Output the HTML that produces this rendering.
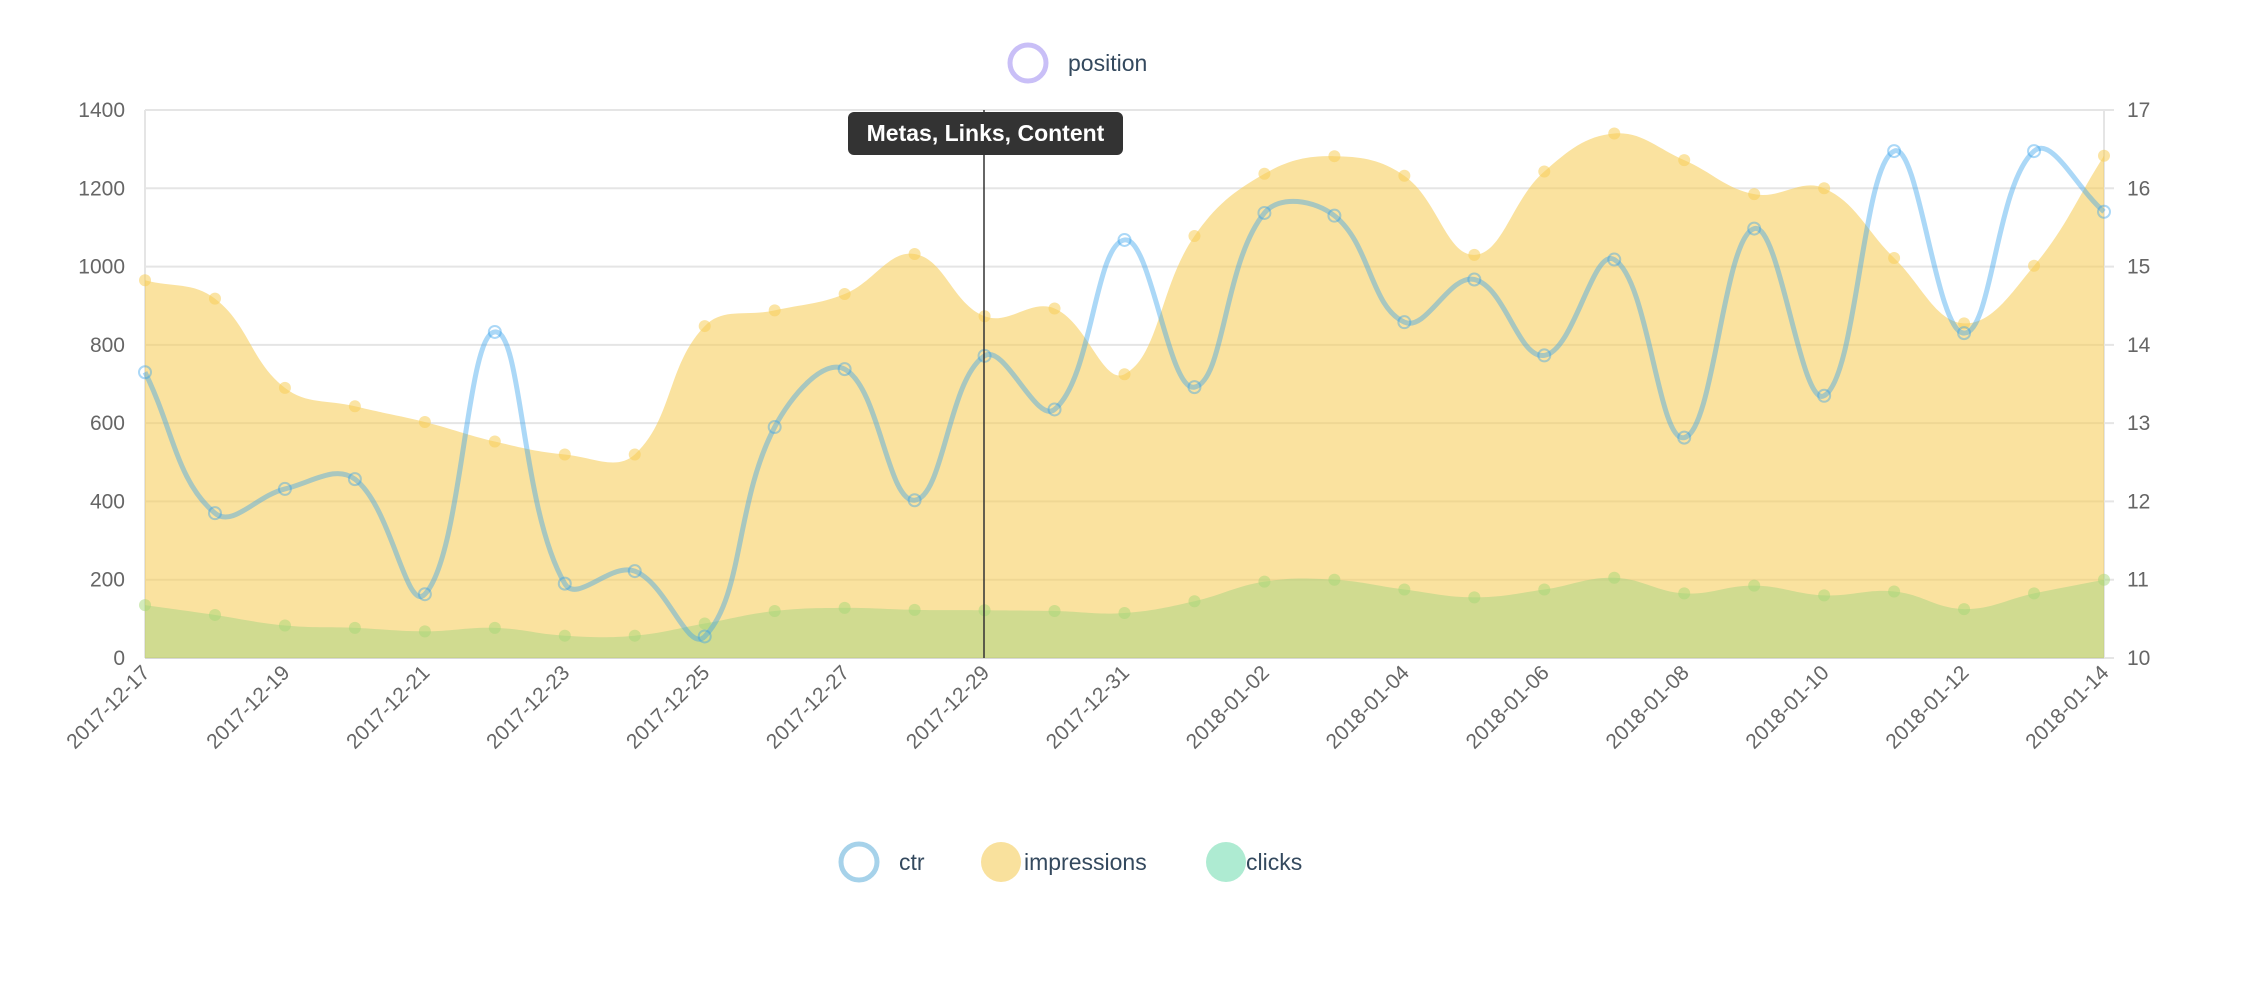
<!DOCTYPE html>
<html><head><meta charset="utf-8"><style>
html,body{margin:0;padding:0;background:#fff;}
svg{display:block;font-family:"Liberation Sans",sans-serif;}
</style></head><body>
<svg id="c" width="2248" height="988" xmlns="http://www.w3.org/2000/svg">
<rect width="2248" height="988" fill="#fff"/>
<g id="grid"></g>
<path id="imp" fill="rgba(247,205,90,0.58)" stroke="none"/>
<path id="clk" fill="rgba(165,212,130,0.5)" stroke="none"/>
<g id="imppts"></g>
<g id="clkpts"></g>
<path id="ctr" fill="none" stroke="rgba(54,162,235,0.42)" stroke-width="5"/>
<g id="ctrpts"></g>
<line x1="984" y1="110" x2="984" y2="658" stroke="#333" stroke-width="1.5"/>
<rect x="848" y="112" width="275" height="43" rx="6" fill="#333"/>
<text x="985.5" y="141" fill="#fff" font-size="23" font-weight="bold" text-anchor="middle">Metas, Links, Content</text>
<g id="axes" font-size="21" fill="#666"></g>
<circle cx="1028" cy="63" r="18" fill="none" stroke="#c9bff7" stroke-width="5"/>
<text x="1068" y="71" font-size="23" fill="#34495e">position</text>
<circle cx="859" cy="862" r="18" fill="none" stroke="#a6d2ea" stroke-width="5"/>
<text x="899" y="870" font-size="23" fill="#34495e">ctr</text>
<circle cx="1001" cy="862" r="20" fill="#f9e19d"/>
<text x="1024" y="870" font-size="23" fill="#34495e">impressions</text>
<circle cx="1226" cy="862" r="20" fill="#aeebd2"/>
<text x="1246" y="870" font-size="23" fill="#34495e">clicks</text>
</svg>
<script>
var L=145,R=2104,T=110,B=658,N=29,dx=(R-L)/28;
function X(i){return L+i*dx}
function Y(v){return B-(v/1400)*(B-T)}
var imp=[965,918,690,643,603,553,520,520,848,888,930,1032,873,893,725,1078,1237,1282,1232,1030,1243,1340,1272,1185,1200,1022,855,1002,1283];
var clk=[135,110,83,77,68,77,57,57,88,120,128,123,122,120,115,145,195,200,175,155,175,205,165,185,160,170,125,165,200];
var ctr=[730,370,432,457,163,833,190,222,55,590,738,403,772,635,1068,692,1137,1130,858,967,773,1018,563,1097,670,1295,830,1295,1140];
function path(d){var p=d.map(function(v,i){return [X(i),Y(v)]});var t=0.4,s="M"+p[0][0]+","+p[0][1];
var cps=[];for(var i=0;i<p.length;i++){var a=p[Math.max(0,i-1)],b=p[i],c=p[Math.min(p.length-1,i+1)];
var d01=Math.hypot(b[0]-a[0],b[1]-a[1]),d12=Math.hypot(c[0]-b[0],c[1]-b[1]);var fa=d01/(d01+d12)||0,fb=d12/(d01+d12)||0;fa*=t;fb*=t;
cps.push({px:b[0]-fa*(c[0]-a[0]),py:b[1]-fa*(c[1]-a[1]),nx:b[0]+fb*(c[0]-a[0]),ny:b[1]+fb*(c[1]-a[1])});}
for(var i=1;i<p.length;i++){s+=" C"+cps[i-1].nx+","+cps[i-1].ny+" "+cps[i].px+","+cps[i].py+" "+p[i][0]+","+p[i][1];}return s;}
var ns="http://www.w3.org/2000/svg";
function el(g,tag,at,txt){var e=document.createElementNS(ns,tag);for(var k in at)e.setAttribute(k,at[k]);if(txt)e.textContent=txt;document.getElementById(g).appendChild(e);return e;}
for(var k=0;k<=7;k++){var y=B-k*(B-T)/7;el("grid","line",{x1:L,x2:R+10,y1:y,y2:y,stroke:"#e5e5e5","stroke-width":2});
el("axes","text",{x:125,y:y+7,"text-anchor":"end"},String(k*200));el("axes","text",{x:2127,y:y+7},String(10+k));}
el("grid","line",{x1:L,x2:L,y1:T,y2:B,stroke:"#e5e5e5","stroke-width":2});
el("grid","line",{x1:R,x2:R,y1:T,y2:B,stroke:"#e5e5e5","stroke-width":2});
el("grid","line",{x1:L,x2:R,y1:B,y2:B,stroke:"#d8d8d8","stroke-width":2});
document.getElementById("imp").setAttribute("d",path(imp)+" L"+R+","+B+" L"+L+","+B+" Z");
document.getElementById("clk").setAttribute("d",path(clk)+" L"+R+","+B+" L"+L+","+B+" Z");
document.getElementById("ctr").setAttribute("d",path(ctr));
for(var i=0;i<N;i++){el("imppts","circle",{cx:X(i),cy:Y(imp[i]),r:6,fill:"rgba(247,205,90,0.55)"});
el("clkpts","circle",{cx:X(i),cy:Y(clk[i]),r:6,fill:"rgba(165,215,120,0.5)"});
el("ctrpts","circle",{cx:X(i),cy:Y(ctr[i]),r:6,fill:"none",stroke:"rgba(54,162,235,0.42)","stroke-width":2});}
var labs=["2017-12-17","2017-12-19","2017-12-21","2017-12-23","2017-12-25","2017-12-27","2017-12-29","2017-12-31","2018-01-02","2018-01-04","2018-01-06","2018-01-08","2018-01-10","2018-01-12","2018-01-14"];
for(var j=0;j<labs.length;j++){var x=X(j*2);el("axes","text",{x:x+6,y:674,"text-anchor":"end",transform:"rotate(-45 "+(x+6)+" 674)"},labs[j]);}
</script>
</body></html>
